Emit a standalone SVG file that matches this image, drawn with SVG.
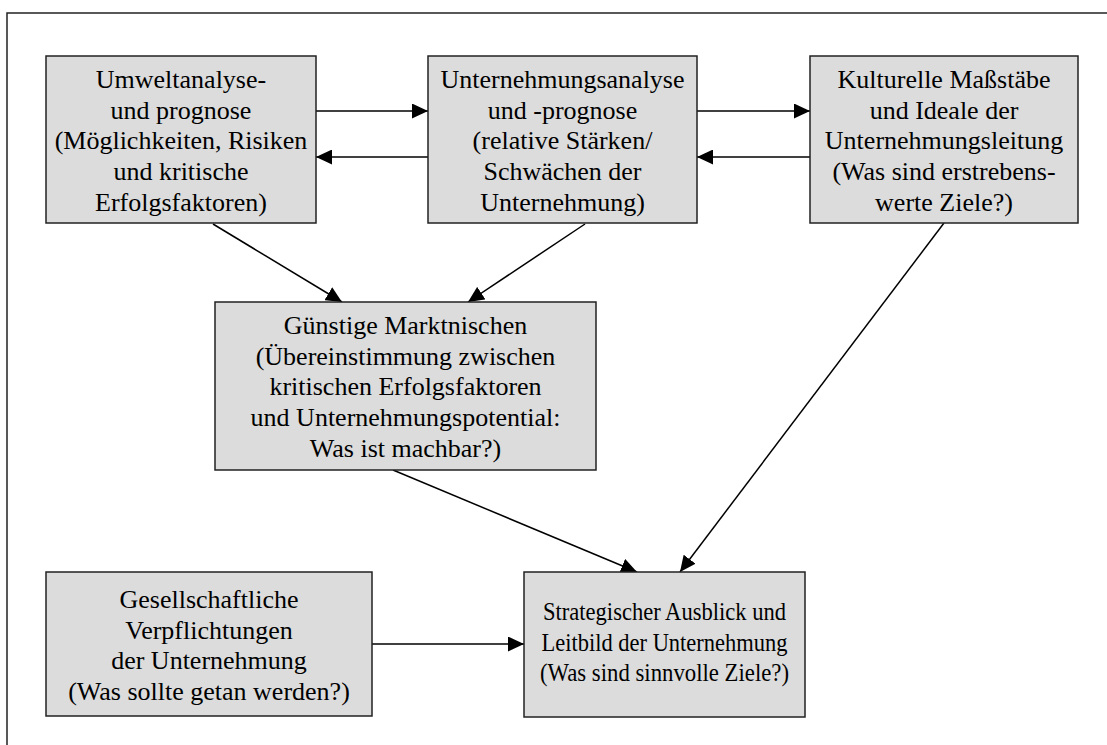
<svg xmlns="http://www.w3.org/2000/svg" width="1107" height="745" viewBox="0 0 1107 745">
  <defs>
    <style>
      .box { fill: #dcdcdc; stroke: #222; stroke-width: 1.5; }
      .c { stroke: #000; stroke-width: 1.5; fill: none; marker-end: url(#ah); }
      .frame { stroke: #222; stroke-width: 1.5; fill: none; }
    </style>
    <marker id="ah" markerUnits="userSpaceOnUse" markerWidth="17" markerHeight="15" refX="16" refY="7.5" orient="auto">
      <path d="M0,0 L16,7.5 L0,15 z" fill="#000"/>
    </marker>
  </defs>
  <rect width="1107" height="745" fill="#fff"/>
  <path class="frame" d="M7,745 L7,13 L1107,13"/>

  <g id="connectors">
    <line class="c" x1="316" y1="111" x2="428" y2="111"/>
    <line class="c" x1="428" y1="157" x2="316" y2="157"/>
    <line class="c" x1="697" y1="111" x2="810" y2="111"/>
    <line class="c" x1="810" y1="157" x2="697" y2="157"/>
    <line class="c" x1="213" y1="224" x2="342" y2="302"/>
    <line class="c" x1="585" y1="224" x2="468" y2="302"/>
    <line class="c" x1="393" y1="470" x2="637" y2="572"/>
    <line class="c" x1="944" y1="223" x2="680" y2="572"/>
    <line class="c" x1="372" y1="644" x2="524" y2="644"/>
  </g>

  <g id="umweltanalyse">
    <rect class="box" x="46" y="56" width="270" height="167"/>
    <g font-family="Liberation Serif" font-size="26" fill="#000" text-anchor="middle">
      <text x="181" y="88">Umweltanalyse-</text>
      <text x="181" y="118.5">und prognose</text>
      <text x="181" y="149">(Möglichkeiten, Risiken</text>
      <text x="181" y="180">und kritische</text>
      <text x="181" y="210.5">Erfolgsfaktoren)</text>
    </g>
  </g>

  <g id="unternehmungsanalyse">
    <rect class="box" x="428" y="56" width="269" height="167"/>
    <g font-family="Liberation Serif" font-size="26" fill="#000" text-anchor="middle">
      <text x="562.5" y="88">Unternehmungsanalyse</text>
      <text x="562.5" y="118.5">und -prognose</text>
      <text x="562.5" y="149">(relative Stärken/</text>
      <text x="562.5" y="180">Schwächen der</text>
      <text x="562.5" y="210.5">Unternehmung)</text>
    </g>
  </g>

  <g id="kulturelle-massstaebe">
    <rect class="box" x="810" y="56" width="268" height="167"/>
    <g font-family="Liberation Serif" font-size="26" fill="#000" text-anchor="middle">
      <text x="944" y="88">Kulturelle Maßstäbe</text>
      <text x="944" y="118.5">und Ideale der</text>
      <text x="944" y="149">Unternehmungsleitung</text>
      <text x="944" y="180">(Was sind erstrebens-</text>
      <text x="944" y="210.5">werte Ziele?)</text>
    </g>
  </g>

  <g id="marktnischen">
    <rect class="box" x="215" y="302" width="381" height="168"/>
    <g font-family="Liberation Serif" font-size="26" fill="#000" text-anchor="middle">
      <text x="405.5" y="334">Günstige Marktnischen</text>
      <text x="405.5" y="364.5">(Übereinstimmung zwischen</text>
      <text x="405.5" y="395">kritischen Erfolgsfaktoren</text>
      <text x="405.5" y="426">und Unternehmungspotential:</text>
      <text x="405.5" y="456.5">Was ist machbar?)</text>
    </g>
  </g>

  <g id="gesellschaftliche-verpflichtungen">
    <rect class="box" x="46" y="572" width="326" height="144"/>
    <g font-family="Liberation Serif" font-size="26" fill="#000" text-anchor="middle">
      <text x="209" y="608">Gesellschaftliche</text>
      <text x="209" y="638.5">Verpflichtungen</text>
      <text x="209" y="669">der Unternehmung</text>
      <text x="209" y="699.5">(Was sollte getan werden?)</text>
    </g>
  </g>

  <g id="strategischer-ausblick">
    <rect class="box" x="524" y="572" width="281" height="145"/>
    <g font-family="Liberation Serif" font-size="26" fill="#000" text-anchor="middle">
      <text x="664.5" y="620" textLength="243" lengthAdjust="spacingAndGlyphs">Strategischer Ausblick und</text>
      <text x="664.5" y="650.5" textLength="246" lengthAdjust="spacingAndGlyphs">Leitbild der Unternehmung</text>
      <text x="664.5" y="681" textLength="249" lengthAdjust="spacingAndGlyphs">(Was sind sinnvolle Ziele?)</text>
    </g>
  </g>
</svg>
